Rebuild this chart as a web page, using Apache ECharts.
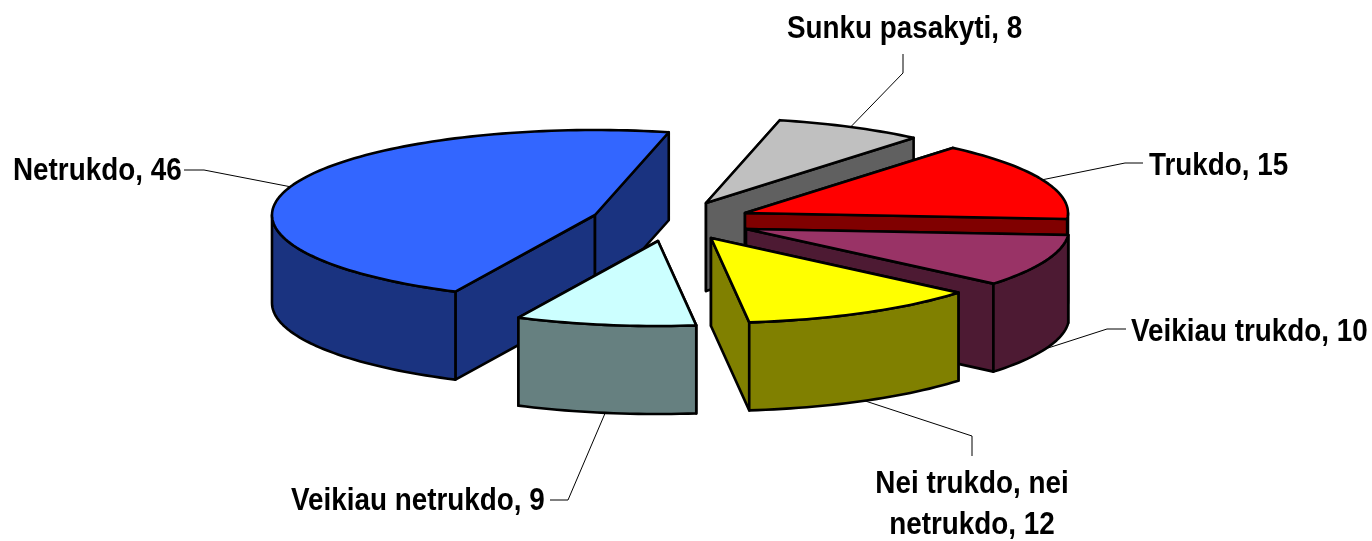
<!DOCTYPE html>
<html>
<head>
<meta charset="utf-8">
<style>html,body{margin:0;padding:0;background:#fff}#c{width:1372px;height:541px}</style>
<script src="https://cdn.jsdelivr.net/npm/echarts@6/dist/echarts.min.js"></script>
</head>
<body>
<div id="c"></div>
<script>
// data
const categories = ['Trukdo', 'Veikiau trukdo', 'Nei trukdo, nei\nnetrukdo', 'Veikiau netrukdo', 'Netrukdo', 'Sunku pasakyti'];
const values = [15, 10, 12, 9, 46, 8];

// styles
const topColors = ['#FF0000', '#993366', '#FFFF00', '#CCFFFF', '#3366FF', '#C0C0C0'];
const sideColors = ['#800000', '#4D1A33', '#808000', '#668080', '#1A3380', '#606060'];

// layout of the pseudo-3D pie (slice tips are the exploded pie centre per slice)
const RX = 323, RY = 85, DEPTH = 88, START_DEG = 50;
const tipX = [745, 746, 711, 658, 595, 706];
const tipY = [213, 229, 238, 241, 215, 203];
const paintRank = [3, 4, 6, 5, 2, 1];
// the reference's perspective squeezes the far side: degrees added to the boundary ending each slice
const perspectiveNudge = [0, 0, 0, 0, -2, 0];
// leader elbows and ends, label anchors
const elbow = [[1125, 163], [1107, 329], [972, 436], [568, 500], [204, 170], [903, 73]];
const leaderEnd = [[1143, 163], [1126, 329], [972, 456], [550, 500], [184, 170], [903, 54]];
const labelAt = [[1149, 166], [1131, 332], [972, 505], [291, 501], [13, 171], [787, 29]];
const labelAlign = ['left', 'left', 'center', 'left', 'left', 'left'];
const FONT_SIZE = 32, TEXT_SQUEEZE = 0.87, LINE_H = 41;

const total = values.reduce((a, b) => a + b, 0);
const ends = [];
values.reduce((acc, v, i) => { ends[i] = acc + v; return acc + v; }, 0);

function rimPoint(i, deg, dy) {
  const r = deg * Math.PI / 180;
  return [tipX[i] + RX * Math.cos(r), tipY[i] - RY * Math.sin(r) + (dy || 0)];
}
function arc(i, from, to, dy) {
  const n = Math.max(2, Math.ceil(Math.abs(to - from) / 1.5));
  const pts = [];
  for (let k = 0; k <= n; k++) pts.push(rimPoint(i, from + (to - from) * k / n, dy));
  return pts;
}
const stroke = { stroke: '#000', lineWidth: 2.6, lineJoin: 'round' };

function renderSlice(params, api) {
  const i = params.dataIndex;
  const value = api.value(0);
  const a0 = START_DEG - (ends[i] - value) / total * 360 + (i > 0 ? perspectiveNudge[i - 1] : 0);
  const a1 = START_DEG - ends[i] / total * 360 + perspectiveNudge[i];
  const mid = (a0 + a1) / 2;
  const z = paintRank[i] * 10;
  const tip = [tipX[i], tipY[i]];
  const tipLow = [tipX[i], tipY[i] + DEPTH];
  const children = [];
  const side = { fill: sideColors[i], ...stroke };
  // the two cut faces
  [a0, a1].forEach(a => {
    children.push({
      type: 'polygon', z2: z,
      shape: { points: [tip, rimPoint(i, a), rimPoint(i, a, DEPTH), tipLow] },
      style: side
    });
  });
  // the front part of the outer rim: angles where sin < 0
  const segs = [[-180, 0], [-540, -360]];
  segs.forEach(s => {
    const from = Math.min(a0, s[1]), to = Math.max(a1, s[0]);
    if (from > to) {
      children.push({
        type: 'polygon', z2: z + 1,
        shape: { points: arc(i, from, to, 0).concat(arc(i, to, from, DEPTH)) },
        style: side
      });
    }
  });
  // top
  children.push({
    type: 'polygon', z2: z + 2,
    shape: { points: [tip].concat(arc(i, a0, a1, 0)) },
    style: { fill: topColors[i], ...stroke }
  });
  // leader: starts on the rim at the slice's mid angle
  const lowRim = Math.sin(mid * Math.PI / 180) < 0 && i !== 4;
  const start = rimPoint(i, mid, lowRim ? DEPTH : 0);
  children.push({
    type: 'polyline', z2: 100,
    shape: { points: [start, elbow[i], leaderEnd[i]] },
    style: { fill: null, stroke: '#000', lineWidth: 1 }
  });
  // label
  children.push({
    type: 'text', z2: 101,
    x: labelAt[i][0], y: labelAt[i][1], scaleX: TEXT_SQUEEZE,
    style: {
      text: categories[i] + ', ' + value,
      x: 0, y: 0,
      fill: '#000',
      font: 'bold ' + FONT_SIZE + 'px "Liberation Sans", Arial, sans-serif',
      lineHeight: LINE_H,
      align: labelAlign[i], verticalAlign: 'middle'
    }
  });
  return { type: 'group', children };
}

const chart = echarts.init(document.getElementById('c'), null, { renderer: 'canvas' });
chart.setOption({
  animation: false,
  backgroundColor: '#fff',
  series: [{
    type: 'custom',
    coordinateSystem: 'none',
    silent: true,
    renderItem: renderSlice,
    encode: { value: 0 },
    data: values.map((v, i) => [v, i])
  }]
});
</script>
</body>
</html>
